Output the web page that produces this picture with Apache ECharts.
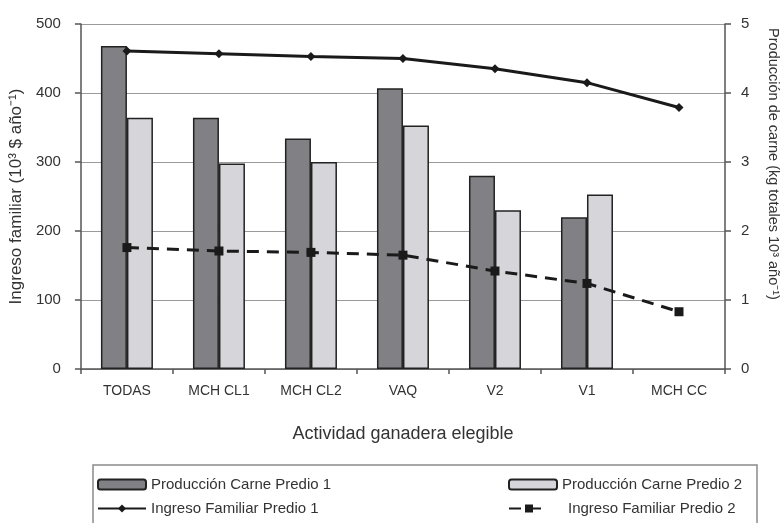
<!DOCTYPE html>
<html><head><meta charset="utf-8">
<script src="https://cdn.jsdelivr.net/npm/echarts@6/dist/echarts.min.js"></script>
<style>html,body{margin:0;padding:0;background:#fff}#c{width:782px;height:523px}</style>
</head><body><div id="c"></div>
<script>
const categories = ['TODAS', 'MCH CL1', 'MCH CL2', 'VAQ', 'V2', 'V1', 'MCH CC'];
const prodCarnePredio1 = [4.68, 3.64, 3.34, 4.07, 2.80, 2.20, null];
const prodCarnePredio2 = [3.64, 2.98, 3.00, 3.53, 2.30, 2.53, null];
const ingresoPredio1 = [461, 457, 453, 450, 435, 415, 379];
const ingresoPredio2 = [176, 171, 169, 165, 142, 124, 83];
const leftTicks = [0, 100, 200, 300, 400, 500];
const rightTicks = [0, 1, 2, 3, 4, 5];

const FONT = '"Liberation Sans Narrow", "Arial Narrow", "Liberation Sans", Arial, sans-serif';
const TXT = '#333';
const chart = echarts.init(document.getElementById('c'), null, {renderer: 'canvas'});

const legendCommon = {
  orient: 'horizontal', padding: 0, itemGap: 0, itemWidth: 48, itemHeight: 10,
  textStyle: {fontFamily: FONT, fontSize: 15, color: TXT, padding: [0, 0, 0, 0]},
  selectedMode: false
};

chart.setOption({
  animation: false,
  backgroundColor: '#fff',
  grid: {left: 78, right: 57, top: 24, bottom: 154, containLabel: false},
  legend: [
    Object.assign({}, legendCommon, {data: ['Producción Carne Predio 1'], left: 97, top: 477}),
    Object.assign({}, legendCommon, {data: ['Producción Carne Predio 2'], left: 508, top: 477}),
    Object.assign({}, legendCommon, {data: ['Ingreso Familiar Predio 1'], left: 97, top: 501}),
    Object.assign({}, legendCommon, {data: ['Ingreso Familiar Predio 2'], left: 508, top: 501,
      itemWidth: 40,
      textStyle: Object.assign({}, legendCommon.textStyle, {padding: [0, 0, 0, 14]})})
  ],
  graphic: [
    {type: 'rect', shape: {x: 93, y: 465, width: 664, height: 70}, style: {fill: 'none', stroke: '#8a8a8a', lineWidth: 1.5}, silent: true},
    {type: 'text', x: 773, y: 164, rotation: -Math.PI / 2,
      style: {text: 'Producción de carne (kg totales 10³ año⁻¹)', fontFamily: FONT, fontSize: 14.5, fill: TXT, align: 'center', verticalAlign: 'middle'}}
  ],
  xAxis: {
    type: 'category', data: categories,
    name: 'Actividad ganadera elegible', nameLocation: 'middle', nameGap: 56,
    nameTextStyle: {fontFamily: FONT, fontSize: 18, color: TXT},
    axisLine: {lineStyle: {color: '#555', width: 1.5}},
    axisTick: {show: true, length: 5, alignWithLabel: false, lineStyle: {color: '#555', width: 1.5}},
    axisLabel: {fontFamily: FONT, fontSize: 14, color: TXT, margin: 15}
  },
  yAxis: [
    {
      type: 'value', min: 0, max: 500, interval: 100, position: 'left',
      name: 'Ingreso familiar (10³ $ año⁻¹)', nameLocation: 'middle', nameGap: 52, nameRotate: 90,
      nameTextStyle: {fontFamily: FONT, fontSize: 17, color: TXT},
      axisLine: {show: true, lineStyle: {color: '#555', width: 1.5}},
      axisTick: {show: true, length: 6, lineStyle: {color: '#555', width: 1.5}},
      axisLabel: {fontFamily: FONT, fontSize: 15, color: TXT, margin: 20,
        formatter: v => leftTicks.includes(v) ? String(v) : ''},
      splitLine: {show: true, lineStyle: {color: '#9a9a9a', width: 1}}
    },
    {
      type: 'value', min: 0, max: 5, interval: 1, position: 'right',
      axisLine: {show: true, lineStyle: {color: '#555', width: 1.5}},
      axisTick: {show: true, length: 6, lineStyle: {color: '#555', width: 1.5}},
      axisLabel: {fontFamily: FONT, fontSize: 15, color: TXT, margin: 16,
        formatter: v => rightTicks.includes(v) ? String(v) : ''},
      splitLine: {show: false}
    }
  ],
  series: [
    {name: 'Producción Carne Predio 1', type: 'bar', yAxisIndex: 1, data: prodCarnePredio1,
      barWidth: 26, barGap: '0%',
      itemStyle: {color: '#808085', borderColor: '#222', borderWidth: 1.5}},
    {name: 'Producción Carne Predio 2', type: 'bar', yAxisIndex: 1, data: prodCarnePredio2,
      barWidth: 26, barGap: '0%',
      itemStyle: {color: '#d5d5da', borderColor: '#222', borderWidth: 1.5}},
    {name: 'Ingreso Familiar Predio 1', type: 'line', yAxisIndex: 0, data: ingresoPredio1,
      symbol: 'diamond', symbolSize: 9, z: 5,
      lineStyle: {color: '#1a1a1a', width: 3}, itemStyle: {color: '#1a1a1a'}},
    {name: 'Ingreso Familiar Predio 2', type: 'line', yAxisIndex: 0, data: ingresoPredio2,
      symbol: 'rect', symbolSize: 9, z: 5,
      lineStyle: {color: '#1a1a1a', width: 3, type: [12, 8]}, itemStyle: {color: '#1a1a1a'}}
  ]
});
</script></body></html>
